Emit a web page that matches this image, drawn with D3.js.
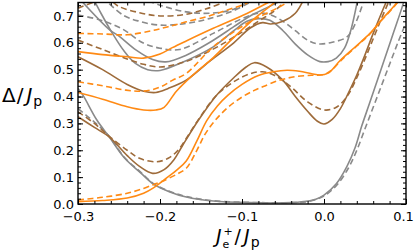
<!DOCTYPE html>
<html><head><meta charset="utf-8">
<script src="https://cdn.jsdelivr.net/npm/d3@7"></script>
<style>
body{margin:0;background:#fff}
svg{display:block}
text{font-family:"DejaVu Sans",sans-serif;fill:#000}
</style></head>
<body>
<script>
// ---------- data ----------
const xTicksMajor = [-0.3, -0.2, -0.1, 0.0, 0.1];
const yTicksMajor = [0.0, 0.1, 0.2, 0.3, 0.4, 0.5, 0.6, 0.7];

const grayS1 = [[-0.3,0.43],[-0.294,0.405],[-0.277,0.3125],[-0.262,0.25],[-0.243,0.17],[-0.224,0.117],[-0.208,0.074],[-0.188,0.045],[-0.168,0.026],[-0.135,0.011],[-0.09,0.005],[-0.04,0.005],[-0.025,0.009],[-0.01,0.018],[0.0,0.033],[0.015,0.075],[0.028,0.14],[0.038,0.21],[0.046,0.29],[0.055,0.37],[0.065,0.46],[0.075,0.55],[0.085,0.64],[0.095,0.73],[0.098,0.76]];
const grayD1 = [[-0.3,0.355],[-0.29,0.33],[-0.28,0.305],[-0.272,0.283],[-0.262,0.252],[-0.243,0.172],[-0.224,0.12],[-0.208,0.076],[-0.188,0.047],[-0.168,0.028],[-0.135,0.012],[-0.09,0.006],[-0.04,0.005],[-0.02,0.009],[0.0,0.03],[0.016,0.072],[0.03,0.135],[0.04,0.2],[0.05,0.28],[0.06,0.36],[0.07,0.44],[0.08,0.52],[0.09,0.6],[0.1,0.675]];
const grayS2 = [[-0.284,0.78],[-0.272,0.71],[-0.258,0.635],[-0.244,0.57],[-0.23,0.523],[-0.215,0.5],[-0.2,0.497],[-0.176,0.523],[-0.135,0.585],[-0.11,0.645],[-0.094,0.68],[-0.08,0.69],[-0.066,0.684],[-0.05,0.645],[-0.035,0.595],[-0.02,0.555],[-0.005,0.53],[0.005,0.53],[0.015,0.543],[0.025,0.58],[0.033,0.65],[0.041,0.76]];
const grayD2 = [[-0.3,0.703],[-0.273,0.685],[-0.245,0.65],[-0.221,0.6],[-0.2,0.58],[-0.176,0.575],[-0.135,0.635],[-0.1,0.69],[-0.08,0.71],[-0.066,0.705],[-0.05,0.68],[-0.035,0.645],[-0.02,0.61],[-0.007,0.596],[0.01,0.602],[0.028,0.622],[0.038,0.67],[0.049,0.76]];
const grayS3 = [[-0.3,0.77],[-0.261,0.647],[-0.25,0.625],[-0.229,0.573],[-0.209,0.538],[-0.193,0.529],[-0.168,0.554],[-0.14,0.6],[-0.11,0.66],[-0.09,0.7],[-0.07,0.73],[-0.05,0.76]];
const grayD3 = [[-0.27,0.77],[-0.245,0.703],[-0.225,0.68],[-0.201,0.666],[-0.168,0.672],[-0.14,0.69],[-0.11,0.72],[-0.085,0.76]];
const grayD4 = [[-0.225,0.77],[-0.2,0.74],[-0.168,0.715],[-0.14,0.71],[-0.11,0.725],[-0.09,0.76]];

const brownS1 = [[-0.3,0.325],[-0.28,0.285],[-0.262,0.25],[-0.24,0.18],[-0.225,0.14],[-0.209,0.114],[-0.195,0.128],[-0.183,0.165],[-0.173,0.215],[-0.153,0.3125],[-0.131,0.405],[-0.11,0.47],[-0.095,0.51],[-0.085,0.526],[-0.07,0.51],[-0.05,0.46],[-0.035,0.4],[-0.02,0.345],[-0.008,0.308],[0.0,0.298],[0.01,0.315],[0.02,0.355],[0.03,0.415],[0.04,0.48],[0.05,0.555],[0.06,0.635],[0.07,0.71],[0.077,0.76]];
const brownD1 = [[-0.3,0.343],[-0.28,0.3],[-0.262,0.252],[-0.24,0.2],[-0.225,0.17],[-0.205,0.157],[-0.19,0.17],[-0.178,0.2],[-0.168,0.244],[-0.153,0.315],[-0.131,0.405],[-0.11,0.455],[-0.09,0.485],[-0.075,0.492],[-0.06,0.478],[-0.04,0.435],[-0.02,0.38],[0.0,0.35],[0.015,0.36],[0.028,0.4],[0.04,0.47],[0.05,0.54],[0.06,0.615],[0.07,0.69],[0.08,0.76]];
const brownS2 = [[-0.3,0.548],[-0.27,0.5],[-0.24,0.445],[-0.22,0.42],[-0.205,0.415],[-0.19,0.43],[-0.168,0.461],[-0.14,0.53],[-0.11,0.6],[-0.09,0.655],[-0.075,0.675],[-0.065,0.67],[-0.05,0.68],[-0.035,0.71],[-0.025,0.76]];
const brownD2 = [[-0.3,0.61],[-0.27,0.575],[-0.24,0.54],[-0.22,0.52],[-0.2,0.51],[-0.18,0.52],[-0.16,0.54],[-0.13,0.585],[-0.1,0.64],[-0.08,0.68],[-0.06,0.72],[-0.045,0.76]];
const brownD3 = [[-0.3,0.729],[-0.28,0.752],[-0.265,0.765],[-0.25,0.735],[-0.225,0.712],[-0.2,0.7],[-0.17,0.705],[-0.14,0.73],[-0.115,0.76]];

const orangeS1 = [[-0.3,0.009],[-0.27,0.013],[-0.24,0.022],[-0.22,0.04],[-0.208,0.06],[-0.195,0.09],[-0.18,0.125],[-0.168,0.16],[-0.155,0.235],[-0.143,0.31],[-0.13,0.365],[-0.117,0.405],[-0.1,0.445],[-0.08,0.478],[-0.062,0.492],[-0.045,0.498],[-0.03,0.494],[-0.015,0.485],[-0.005,0.48],[0.005,0.487],[0.02,0.535],[0.04,0.59],[0.056,0.635],[0.07,0.685],[0.085,0.735],[0.092,0.76]];
const orangeD1 = [[-0.3,0.015],[-0.27,0.025],[-0.24,0.04],[-0.22,0.058],[-0.208,0.072],[-0.197,0.085],[-0.18,0.11],[-0.168,0.133],[-0.155,0.2],[-0.145,0.26],[-0.133,0.31],[-0.117,0.36],[-0.099,0.4],[-0.085,0.423],[-0.074,0.437],[-0.055,0.46],[-0.035,0.474],[-0.015,0.479],[0.0,0.482],[0.01,0.5],[0.02,0.532],[0.04,0.588],[0.056,0.633],[0.07,0.683],[0.085,0.733],[0.092,0.76]];
const orangeS2 = [[-0.3,0.567],[-0.27,0.556],[-0.24,0.548],[-0.22,0.543],[-0.2,0.558],[-0.185,0.582],[-0.168,0.607],[-0.135,0.654],[-0.094,0.709],[-0.068,0.75],[-0.062,0.76]];
const orangeD2 = [[-0.3,0.635],[-0.27,0.633],[-0.24,0.63],[-0.21,0.645],[-0.19,0.66],[-0.168,0.678],[-0.14,0.7],[-0.12,0.72],[-0.094,0.748],[-0.088,0.76]];
const orangeS3 = [[-0.3,0.415],[-0.27,0.39],[-0.24,0.362],[-0.22,0.35],[-0.205,0.35],[-0.195,0.36],[-0.18,0.42],[-0.16,0.48],[-0.135,0.545],[-0.11,0.62],[-0.085,0.69],[-0.06,0.75],[-0.056,0.76]];
const orangeD3 = [[-0.3,0.455],[-0.27,0.44],[-0.2415,0.424],[-0.22,0.42],[-0.2,0.435],[-0.185,0.46],[-0.168,0.486],[-0.135,0.585],[-0.094,0.672],[-0.054,0.734],[-0.04,0.76]];

const GRAY = "#8a8a8a", BROWN = "#9e6b3a", ORANGE = "#ff8a14";
const series = [
  {d: grayS1, c: GRAY, dash: false}, {d: grayD1, c: GRAY, dash: true},
  {d: grayS2, c: GRAY, dash: false}, {d: grayD2, c: GRAY, dash: true},
  {d: grayS3, c: GRAY, dash: false},
  {d: grayD3, c: GRAY, dash: true}, {d: grayD4, c: GRAY, dash: true},
  {d: brownS1, c: BROWN, dash: false}, {d: brownD1, c: BROWN, dash: true},
  {d: brownS2, c: BROWN, dash: false}, {d: brownD2, c: BROWN, dash: true},
  {d: brownD3, c: BROWN, dash: true},
  {d: orangeS1, c: ORANGE, dash: false}, {d: orangeD1, c: ORANGE, dash: true},
  {d: orangeS2, c: ORANGE, dash: false}, {d: orangeD2, c: ORANGE, dash: true},
  {d: orangeS3, c: ORANGE, dash: false}, {d: orangeD3, c: ORANGE, dash: true}
];

// ---------- layout ----------
const FONT = '"DejaVu Sans",sans-serif';
const W = 415, H = 251;
const L = 78, R = 406, T = 2.5, B = 204;
const svg = d3.select("body").append("svg").attr("width", W).attr("height", H)
  .attr("font-family", FONT);
const x = d3.scaleLinear().domain([-0.3, 0.1]).range([L, R]);
const y = d3.scaleLinear().domain([0, 0.75]).range([B, T]);

svg.append("clipPath").attr("id","clip").append("rect")
  .attr("x", L).attr("y", T).attr("width", R-L).attr("height", B-T);

const line = d3.line().x(d => x(d[0])).y(d => y(d[1])).curve(d3.curveCatmullRom.alpha(0.5));
const g = svg.append("g").attr("clip-path","url(#clip)");
g.selectAll("path").data(series).join("path")
  .attr("d", s => line(s.d))
  .attr("fill","none")
  .attr("stroke", s => s.c)
  .attr("stroke-width", 1.6)
  .attr("stroke-dasharray", s => s.dash ? "6,3.5" : null);

// ---------- axes (Mathematica-style frame, inward ticks) ----------
const fmt = d3.format(".1f");
const xMinor = d3.range(-0.3, 0.1001, 0.02).map(v => +v.toFixed(2));
const yMinor = d3.range(0, 0.7501, 0.02).map(v => +v.toFixed(2));

function style(sel){
  sel.attr("font-family", FONT).attr("font-size", 13);
  sel.select(".domain").remove();
  sel.selectAll("line").attr("stroke","#000").attr("stroke-width",1);
  sel.selectAll("text").attr("fill","#000").style("font-size","13px");
}
svg.append("g").attr("transform",`translate(0,${B})`)
  .call(d3.axisBottom(x).tickValues(xMinor).tickSize(-3).tickFormat("")).call(style);
const xAx = svg.append("g").attr("transform",`translate(0,${B})`)
  .call(d3.axisBottom(x).tickValues(xTicksMajor).tickSize(-5).tickPadding(8).tickFormat(fmt)).call(style);
xAx.selectAll("text").filter(d => d === 0.1).attr("dx", -3);
svg.append("g").attr("transform",`translate(0,${T})`)
  .call(d3.axisTop(x).tickValues(xMinor).tickSize(-3).tickFormat("")).call(style);
svg.append("g").attr("transform",`translate(0,${T})`)
  .call(d3.axisTop(x).tickValues(xTicksMajor).tickSize(-5).tickFormat("")).call(style);
svg.append("g").attr("transform",`translate(${L},0)`)
  .call(d3.axisLeft(y).tickValues(yMinor).tickSize(-3).tickFormat("")).call(style);
svg.append("g").attr("transform",`translate(${L},0)`)
  .call(d3.axisLeft(y).tickValues(yTicksMajor).tickSize(-5).tickPadding(4).tickFormat(fmt)).call(style);
svg.append("g").attr("transform",`translate(${R},0)`)
  .call(d3.axisRight(y).tickValues(yMinor).tickSize(-3).tickFormat("")).call(style);
svg.append("g").attr("transform",`translate(${R},0)`)
  .call(d3.axisRight(y).tickValues(yTicksMajor).tickSize(-5).tickFormat("")).call(style);

svg.append("rect").attr("x",L).attr("y",T).attr("width",R-L).attr("height",B-T)
  .attr("fill","none").attr("stroke","#000").attr("stroke-width",1.4);

// ---------- axis titles ----------
const yl = svg.append("text").attr("x",2).attr("y",102).style("font-size","20px");
yl.append("tspan").text("Δ");
yl.append("tspan").attr("dx",1).text("/");
yl.append("tspan").attr("dx",3).style("font-style","italic").text("J");
yl.append("tspan").attr("dx",1).attr("dy",4).style("font-size","14px").text("p");

const xl = svg.append("text").attr("x",216).attr("y",243).style("font-size","19px");
xl.append("tspan").style("font-style","italic").text("J");
xl.append("tspan").attr("dx",1).attr("dy",5).style("font-size","11px").text("e");
xl.append("tspan").attr("dx",-6).attr("dy",-13).style("font-size","11px").text("+");
xl.append("tspan").attr("dx",2).attr("dy",8).text("/");
xl.append("tspan").attr("dx",3).style("font-style","italic").text("J");
xl.append("tspan").attr("dx",1).attr("dy",4).style("font-size","14px").text("p");
</script>
</body></html>
